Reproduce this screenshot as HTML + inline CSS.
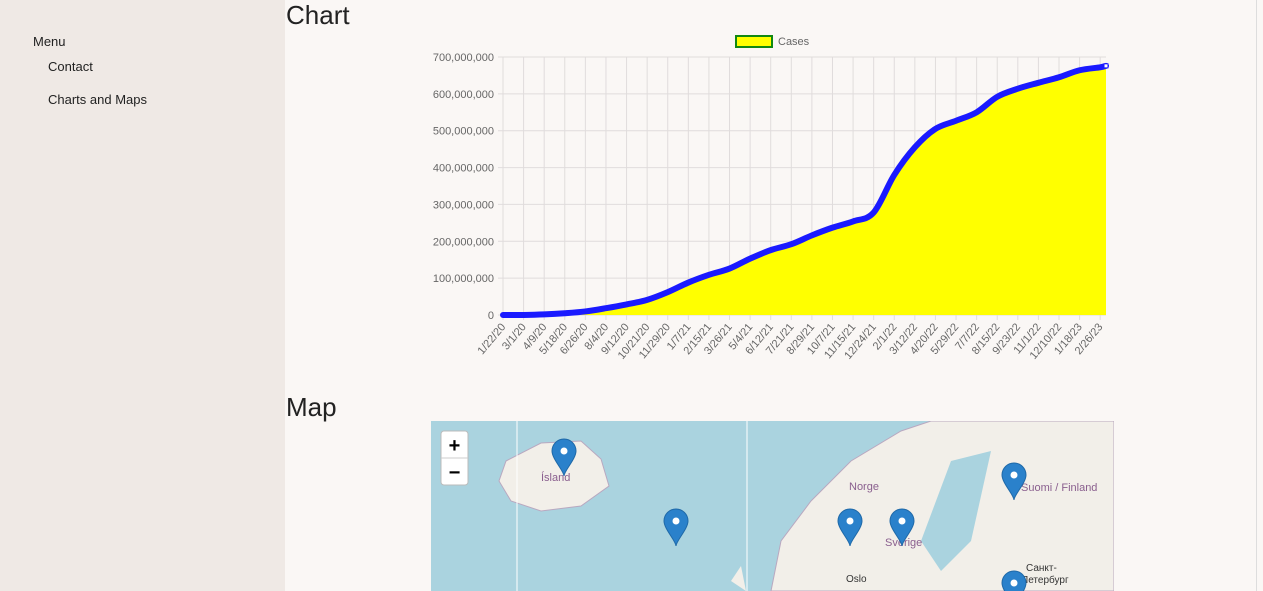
<!DOCTYPE html>
<html><head><meta charset="utf-8"><style>
body{margin:0;width:1263px;height:591px;overflow:hidden;background:#faf7f5;font-family:"Liberation Sans",sans-serif;position:relative}
#side{position:absolute;left:0;top:0;width:285px;height:591px;background:#efe9e5}
.mi{position:absolute;font-size:13px;color:#222}
h2{position:absolute;margin:0;font-weight:normal;font-size:26px;color:#222}
</style></head><body>
<div id="side">
<div class="mi" style="left:33px;top:34px">Menu</div>
<div class="mi" style="left:48px;top:59px">Contact</div>
<div class="mi" style="left:48px;top:92px">Charts and Maps</div>
</div>
<h2 style="left:286px;top:0px">Chart</h2>
<h2 style="left:286px;top:392px">Map</h2>
<div style="position:absolute;left:1256px;top:0;width:1px;height:591px;background:#ddd"></div>
<svg id="chart" style="position:absolute;left:0;top:0" width="1263" height="391"></svg>
<svg style="position:absolute;left:431px;top:421px" width="683" height="170">
<rect width="683" height="170" fill="#aad3df"/>
<path d="M75,40 L110,22 L150,20 L170,38 L178,65 L150,85 L110,90 L80,80 L68,60 Z" fill="#f2efe9" stroke="#b9a8c0"/>
<path d="M340,170 L350,120 L380,80 L420,40 L470,10 L500,0 L683,0 L683,170 Z" fill="#f2efe9" stroke="#b9a8c0"/>
<path d="M520,40 L560,30 L540,120 L510,150 L490,120 Z" fill="#aad3df"/>
<path d="M300,160 L310,145 L315,170 Z" fill="#f2efe9"/>
<line x1="86" y1="0" x2="86" y2="170" stroke="#fff"/><line x1="316" y1="0" x2="316" y2="170" stroke="#fff"/>
<text x="110" y="60" font-size="11" fill="#8a5f8e">Ísland</text>
<text x="418" y="69" font-size="11" fill="#8a5f8e">Norge</text>
<text x="454" y="125" font-size="11" fill="#8a5f8e">Sverige</text>
<text x="590" y="70" font-size="11" fill="#8a5f8e">Suomi / Finland</text>
<text x="415" y="161" font-size="10" fill="#333">Oslo</text>
<text x="595" y="150" font-size="10" fill="#333">Санкт-</text>
<text x="590" y="162" font-size="10" fill="#333">Петербург</text>
<g fill="#2a81cb" stroke="#1f69a8">
<path d="M133,18 a12,12 0 0 1 12,12 c0,8 -12,20 -12,25 c0,-5 -12,-17 -12,-25 a12,12 0 0 1 12,-12z"/>
<path d="M245,88 a12,12 0 0 1 12,12 c0,8 -12,20 -12,25 c0,-5 -12,-17 -12,-25 a12,12 0 0 1 12,-12z"/>
<path d="M419,88 a12,12 0 0 1 12,12 c0,8 -12,20 -12,25 c0,-5 -12,-17 -12,-25 a12,12 0 0 1 12,-12z"/>
<path d="M471,88 a12,12 0 0 1 12,12 c0,8 -12,20 -12,25 c0,-5 -12,-17 -12,-25 a12,12 0 0 1 12,-12z"/>
<path d="M583,42 a12,12 0 0 1 12,12 c0,8 -12,20 -12,25 c0,-5 -12,-17 -12,-25 a12,12 0 0 1 12,-12z"/>
<path d="M583,150 a12,12 0 0 1 12,12 c0,8 -12,20 -12,25 c0,-5 -12,-17 -12,-25 a12,12 0 0 1 12,-12z"/>
</g>
<g fill="#fff"><circle cx="133" cy="30" r="3.5"/><circle cx="245" cy="100" r="3.5"/><circle cx="419" cy="100" r="3.5"/><circle cx="471" cy="100" r="3.5"/><circle cx="583" cy="54" r="3.5"/><circle cx="583" cy="162" r="3.5"/></g>
<g>
<rect x="10" y="10" width="27" height="54" rx="3" fill="#fff" stroke="#bbb"/>
<line x1="10" y1="37" x2="37" y2="37" stroke="#ccc"/>
<text x="23.5" y="31" font-size="20" text-anchor="middle" font-weight="bold">+</text>
<text x="23.5" y="58" font-size="20" text-anchor="middle" font-weight="bold">−</text>
</g>
</svg>
<script>
const dayIndex=[0,39,78,117,156,195,234,273,312,351,390,429,468,507,546,585,624,663,702,741,780,819,858,897,936,975,1014,1053,1092,1131,1142];
const cases=[0,0.1,1.6,4.8,9.7,18.5,28.8,41,62,88,109,126,153,176,192,216,237,254,278,380,455,505,527,550,592,614,630,645,664,672,676].map(v=>v*1e6);
const tickLabels=["1/22/20","3/1/20","4/9/20","5/18/20","6/26/20","8/4/20","9/12/20","10/21/20","11/29/20","1/7/21","2/15/21","3/26/21","5/4/21","6/12/21","7/21/21","8/29/21","10/7/21","11/15/21","12/24/21","2/1/22","3/12/22","4/20/22","5/29/22","7/7/22","8/15/22","9/23/22","11/1/22","12/10/22","1/18/23","2/26/23"];
const yTicks=[0,100e6,200e6,300e6,400e6,500e6,600e6,700e6];
const NS="http://www.w3.org/2000/svg",svg=document.getElementById('chart');
const X0=503,X1=1106,Y0=315,Y1=57,maxDay=1142,maxY=700e6;
const xs=d=>X0+d/maxDay*(X1-X0), ys=v=>Y0-v/maxY*(Y0-Y1);
function mk(t,a,p){const e=document.createElementNS(NS,t);for(const k in a)e.setAttribute(k,a[k]);(p||svg).appendChild(e);return e;}
yTicks.forEach(v=>{const l=mk('line',{x1:X0-5,x2:X1,y1:ys(v),y2:ys(v),stroke:'#e0dcdc'});
const t=mk('text',{x:X0-9,y:ys(v)+4,'font-size':11,fill:'#666','text-anchor':'end'});t.textContent=v.toLocaleString('en-US');});
tickLabels.forEach((s,i)=>{const x=xs(i*39);const l=mk('line',{x1:x,x2:x,y1:Y1,y2:Y0+5,stroke:'#e0dcdc'});
const t=mk('text',{x:x+3,y:Y0+12,'font-size':11,fill:'#666','text-anchor':'end',transform:`rotate(-50 ${x+3} ${Y0+12})`});t.textContent=s;});
const P=dayIndex.map((d,i)=>[xs(d),ys(cases[i])]);
let dPath='M'+P[0][0]+','+P[0][1];
for(let i=0;i<P.length-1;i++){const p0=P[Math.max(0,i-1)],p1=P[i],p2=P[i+1],p3=P[Math.min(P.length-1,i+2)];
const c1=[p1[0]+(p2[0]-p0[0])/6,p1[1]+(p2[1]-p0[1])/6],c2=[p2[0]-(p3[0]-p1[0])/6,p2[1]-(p3[1]-p1[1])/6];
dPath+=` C${c1[0]},${Math.min(c1[1],Y0)} ${c2[0]},${Math.min(c2[1],Y0)} ${p2[0]},${p2[1]}`;}
const area=mk('path',{d:dPath+` L${xs(maxDay)},${Y0} L${xs(0)},${Y0} Z`,fill:'#ffff00'});

const line=mk('path',{d:dPath,fill:'none',stroke:'#1a1aff','stroke-width':6,'stroke-linejoin':'round','stroke-linecap':'round'});

const last=P[P.length-1];
const lm=mk('rect',{x:last[0]-2,y:last[1]-2,width:4,height:4,fill:'#fff',stroke:'#1a1aff','stroke-width':1});

const lg=mk('rect',{x:736,y:36,width:36,height:11,fill:'#ffff00',stroke:'#118811','stroke-width':2});

const lt=mk('text',{x:778,y:45,'font-size':11,fill:'#666'});lt.textContent='Cases';

</script>
</body></html>
